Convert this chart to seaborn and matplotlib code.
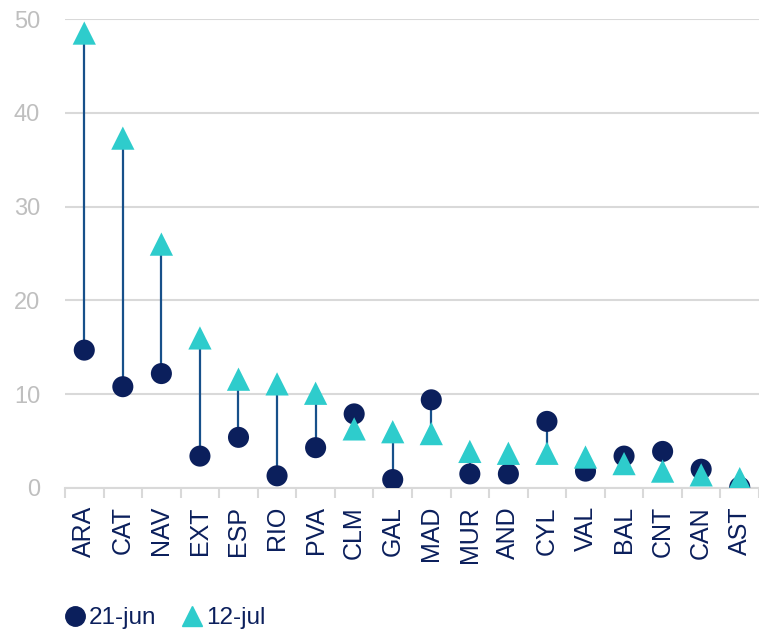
import pandas as pd
import seaborn as sns
import matplotlib.pyplot as plt
from matplotlib.lines import Line2D

# Values
regions = ["ARA", "CAT", "NAV", "EXT", "ESP", "RIO", "PVA", "CLM", "GAL",
           "MAD", "MUR", "AND", "CYL", "VAL", "BAL", "CNT", "CAN", "AST"]
jun21 = [14.7, 10.8, 12.2, 3.4, 5.4, 1.3, 4.3, 7.9, 0.9,
         9.4, 1.5, 1.5, 7.1, 1.8, 3.4, 3.9, 2.0, 0.1]
jul12 = [48.5, 37.3, 26.0, 16.0, 11.6, 11.1, 10.1, 6.3, 6.0,
         5.8, 3.9, 3.7, 3.7, 3.3, 2.6, 1.8, 1.4, 1.0]
series_names = ["21-jun", "12-jul"]

NAVY = "#0b1f5c"
TEAL = "#2ecccc"
LINE = "#17508a"
GRID = "#d9d9d9"
TICKGREY = "#bfbfbf"

df = pd.DataFrame({"region": regions, "jun": jun21, "jul": jul12})

sns.set_theme(style="white")
plt.rcParams['font.family'] = ['Liberation Sans', 'DejaVu Sans']

fig = plt.figure(figsize=(7.59, 6.32), dpi=100)
ax = fig.add_axes([65 / 759, 1 - 488 / 632, 694 / 759, (488 - 19) / 632])

# high-low connector lines
pos = list(range(len(regions)))
ax.vlines(pos, df["jun"], df["jul"], color=LINE, linewidth=1.6, zorder=2)

sns.scatterplot(data=df, x="region", y="jun", ax=ax, marker="o", s=230,
                color=NAVY, edgecolor="none", zorder=3, legend=False)
sns.scatterplot(data=df, x="region", y="jul", ax=ax, marker="^", s=280,
                color=TEAL, edgecolor="none", zorder=4, legend=False)

ax.set_xlim(-0.5, len(regions) - 0.5)
ax.set_ylim(0, 50)
ax.set_yticks([0, 10, 20, 30, 40, 50])
ax.grid(axis="y", color=GRID, linewidth=1.5)
ax.set_axisbelow(True)
for s in ["top", "right", "left"]:
    ax.spines[s].set_visible(False)
ax.spines["bottom"].set_color(GRID)
ax.spines["bottom"].set_linewidth(1.5)

ax.set_xlabel("")
ax.set_ylabel("")
ax.tick_params(axis="y", length=0, pad=18, labelsize=17, labelcolor=TICKGREY)
ax.tick_params(axis="x", length=0, pad=13, labelsize=18, labelcolor=NAVY,
               labelrotation=90)
# category separators on the x axis
ax.set_xticks([p - 0.5 for p in range(len(regions) + 1)], minor=True)
ax.tick_params(axis="x", which="minor", bottom=True, length=7, width=1.5,
               color=GRID, direction="out")

handles = [
    Line2D([], [], marker="o", linestyle="none", color=NAVY, markersize=14),
    Line2D([], [], marker="^", linestyle="none", color=TEAL, markersize=14),
]
fig.legend(handles, series_names, loc="lower left", bbox_to_anchor=(0.055, -0.03),
           ncol=2, frameon=False, fontsize=17.5, handletextpad=0.15,
           columnspacing=1.0, labelcolor=NAVY, handlelength=0.9)

fig.savefig("out.png", dpi=100)
